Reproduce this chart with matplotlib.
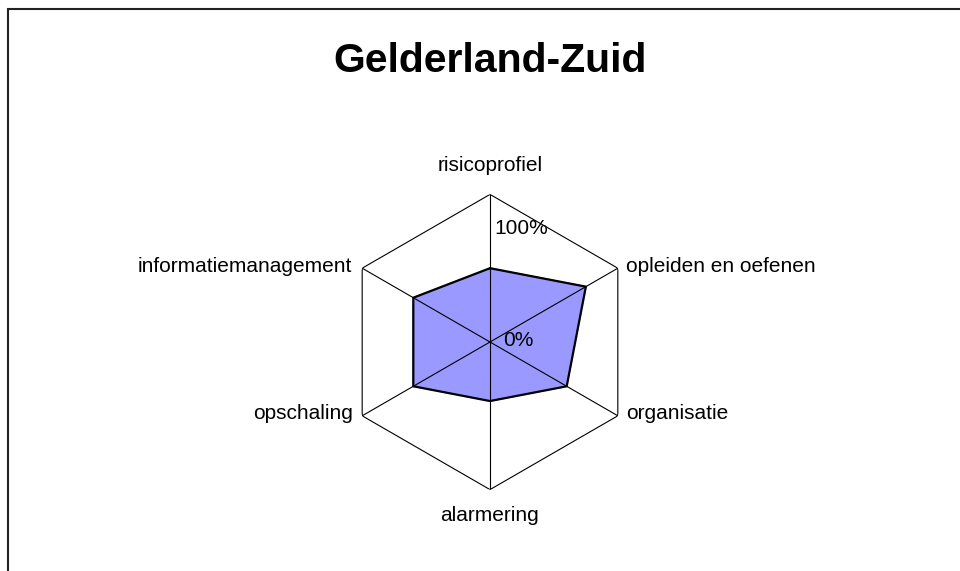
import numpy as np
import matplotlib
matplotlib.use("Agg")
import matplotlib.pyplot as plt
from matplotlib.patches import Rectangle

plt.rcParams['font.family'] = ['Liberation Sans', 'DejaVu Sans']

# data
title = "Gelderland-Zuid"
categories = ["risicoprofiel", "opleiden en oefenen", "organisatie",
              "alarmering", "opschaling", "informatiemanagement"]
scores = [0.50, 0.75, 0.60, 0.40, 0.60, 0.60]
r_ticks = [0.0, 1.0]
r_tick_labels = ["0%", "100%"]

# label placement (offset in pixels from the outer vertex)
label_offsets = [(0, 23), (8, -4), (8, -3), (0, -31), (-9, -3), (-10, -4)]
label_ha = ["center", "left", "left", "center", "right", "right"]

fig = plt.figure(figsize=(9.6, 5.71), dpi=100)
W, H = 960, 571
cx, cy, R = 490, 342, 147.6
ax = fig.add_axes([(cx - R) / W, (H - cy - R) / H, 2 * R / W, 2 * R / H],
                  projection="polar")
ax.set_theta_zero_location("N")
ax.set_theta_direction(-1)
ax.set_ylim(0, 1)
ax.grid(False)
ax.set_xticks([])
ax.set_yticks([])
ax.spines["polar"].set_visible(False)
ax.patch.set_visible(False)

n = len(categories)
angles = np.arange(n) * 2 * np.pi / n
closed = np.append(angles, angles[0])

# hexagon frame and spokes
ax.plot(closed, np.ones(n + 1), color="black", lw=0.8, zorder=1)
for a in angles:
    ax.plot([a, a], [0, 1], color="black", lw=0.8, zorder=3)

# data polygon
vals = np.append(scores, scores[0])
ax.fill(closed, vals, color="#9999FF", zorder=2)
ax.plot(closed, vals, color="black", lw=1.6, zorder=4)

# category labels
for a, lab, off, ha in zip(angles, categories, label_offsets, label_ha):
    ax.annotate(lab, xy=(a, 1), xytext=off, textcoords="offset pixels",
                ha=ha, va="baseline", fontsize=15)

# radial axis labels
ax.annotate(r_tick_labels[1], xy=(0, r_ticks[1]), xytext=(4, -40),
            textcoords="offset pixels", ha="left", va="baseline", fontsize=15)
ax.annotate(r_tick_labels[0], xy=(0, r_ticks[0]), xytext=(13, -4),
            textcoords="offset pixels", ha="left", va="baseline", fontsize=15)

fig.text(cx / W, 1 - 72 / H, title, ha="center", va="baseline",
         fontsize=29.5, fontweight="bold")

# chart area border (only left and top visible)
fig.patches.append(Rectangle((8 / W, -0.2), 1.5, 1.2 - 8.5 / H, fill=False,
                             lw=1.5, edgecolor="#222222",
                             transform=fig.transFigure, figure=fig))

fig.savefig("out.png", dpi=100)
